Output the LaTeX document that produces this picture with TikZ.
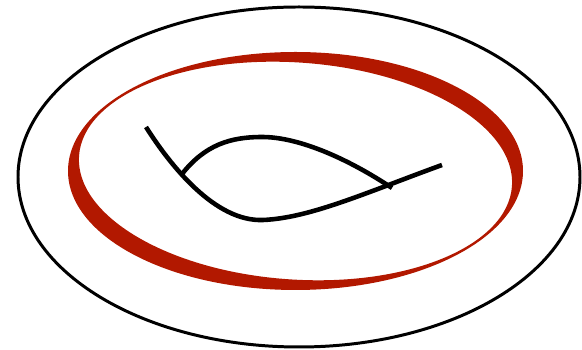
\documentclass[tikz,border=0pt]{standalone}
\usepackage{tikz}
\usepackage{xcolor}
\definecolor{ringred}{RGB}{178,24,0}
\usetikzlibrary{calc}

\begin{document}
\begin{tikzpicture}[x=0.02cm, y=-0.02cm,
        surface/.style={line width=1.7pt, black},
        handle/.style={line width=2.6pt, black}]
         \useasboundingbox (0,0) rectangle (582,350);

         % Surface
         \draw[surface] (299,177) ellipse (281 and 170);

         % Red curve
         \fill[ringred, even odd rule] (295.5,171) ellipse (227.5 and 119)
              [rotate around={-4:(295.5,171)}] (295.5,171) ellipse (217 and 108.5);

         % Handle
         \draw[handle] (146,127) .. controls (170,165) and (215,222) .. (263,220)
              .. controls (310,218) and (365,193) .. (442,165);
         \draw[handle] (182,174) .. controls (205,145) and (230,137) .. (262,137)
              .. controls (300,137) and (350,160) .. (392,188);
\end{tikzpicture}
\end{document}
